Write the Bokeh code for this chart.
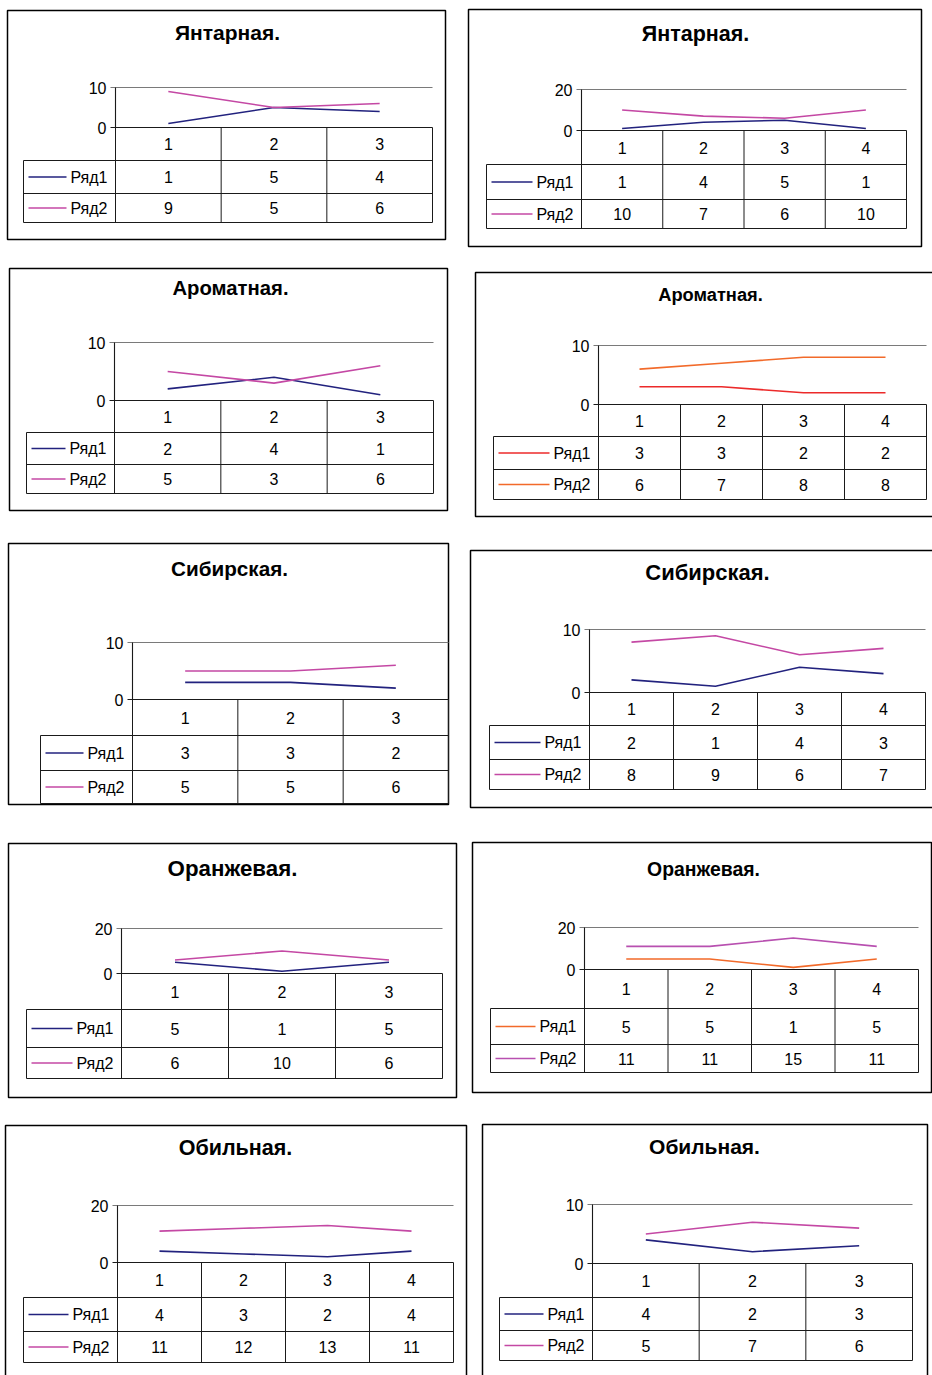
from bokeh.plotting import figure
from bokeh.models import Range1d
from bokeh.core.properties import value
from bokeh.embed import file_html
from bokeh.resources import INLINE

# ---- data -------------------------------------------------------------
series_names = ["Ряд1", "Ряд2"]

yantar3_cats = [1, 2, 3]
yantar3_r1 = [1, 5, 4]
yantar3_r2 = [9, 5, 6]
yantar3_ticks = [0, 10]

yantar4_cats = [1, 2, 3, 4]
yantar4_r1 = [1, 4, 5, 1]
yantar4_r2 = [10, 7, 6, 10]
yantar4_ticks = [0, 20]

aromat3_cats = [1, 2, 3]
aromat3_r1 = [2, 4, 1]
aromat3_r2 = [5, 3, 6]
aromat3_ticks = [0, 10]

aromat4_cats = [1, 2, 3, 4]
aromat4_r1 = [3, 3, 2, 2]
aromat4_r2 = [6, 7, 8, 8]
aromat4_ticks = [0, 10]

sibir3_cats = [1, 2, 3]
sibir3_r1 = [3, 3, 2]
sibir3_r2 = [5, 5, 6]
sibir3_ticks = [0, 10]

sibir4_cats = [1, 2, 3, 4]
sibir4_r1 = [2, 1, 4, 3]
sibir4_r2 = [8, 9, 6, 7]
sibir4_ticks = [0, 10]

orange3_cats = [1, 2, 3]
orange3_r1 = [5, 1, 5]
orange3_r2 = [6, 10, 6]
orange3_ticks = [0, 20]

orange4_cats = [1, 2, 3, 4]
orange4_r1 = [5, 5, 1, 5]
orange4_r2 = [11, 11, 15, 11]
orange4_ticks = [0, 20]

obil4_cats = [1, 2, 3, 4]
obil4_r1 = [4, 3, 2, 4]
obil4_r2 = [11, 12, 13, 11]
obil4_ticks = [0, 20]

obil3_cats = [1, 2, 3]
obil3_r1 = [4, 2, 3]
obil3_r2 = [5, 7, 6]
obil3_ticks = [0, 10]

NAVY = "#22227e"
PINK = "#c448a4"
RED = "#ec2a2a"
ORANGE = "#f26a2a"
PURPLE = "#b850b0"

# ---- page layout (pixels) ---------------------------------------------
W, H = 932, 1375
FONT = value("Liberation Sans")

# box: (left, top, right, bottom); axis x, value-top y, zero y, right edge,
# column-table row bounds, legend left, title position and size
charts = [
    dict(title="Янтарная.", cats=yantar3_cats, r1=yantar3_r1, r2=yantar3_r2, ticks=yantar3_ticks,
         colors=(NAVY, PINK), box=(7, 10, 445, 239), ax=115, top=87, zero=127, right=432,
         rows=(160, 193, 222), leg=23, tx=227, ty=32, tsize=21),
    dict(title="Янтарная.", cats=yantar4_cats, r1=yantar4_r1, r2=yantar4_r2, ticks=yantar4_ticks,
         colors=(NAVY, PINK), box=(468, 9, 921, 246), ax=581, top=89, zero=130, right=906,
         rows=(164, 199, 228), leg=486, tx=695, ty=33, tsize=21.5),
    dict(title="Ароматная.", cats=aromat3_cats, r1=aromat3_r1, r2=aromat3_r2, ticks=aromat3_ticks,
         colors=(NAVY, PINK), box=(9, 268, 447, 510), ax=114, top=342, zero=400, right=433,
         rows=(432, 464, 493), leg=26, tx=230, ty=287, tsize=20.3),
    dict(title="Ароматная.", cats=aromat4_cats, r1=aromat4_r1, r2=aromat4_r2, ticks=aromat4_ticks,
         colors=(RED, ORANGE), box=(475, 272, 940, 516), ax=598, top=345, zero=404, right=926,
         rows=(436, 469, 499), leg=493, tx=710, ty=294, tsize=18.3),
    dict(title="Сибирская.", cats=sibir3_cats, r1=sibir3_r1, r2=sibir3_r2, ticks=sibir3_ticks,
         colors=(NAVY, PINK), box=(8, 543, 448, 804), ax=132, top=642, zero=699, right=448,
         rows=(735, 770, 803), leg=40, tx=229, ty=568, tsize=20.7),
    dict(title="Сибирская.", cats=sibir4_cats, r1=sibir4_r1, r2=sibir4_r2, ticks=sibir4_ticks,
         colors=(NAVY, PINK), box=(470, 550, 940, 807), ax=589, top=629, zero=692, right=925,
         rows=(725, 759, 789), leg=489, tx=707, ty=572, tsize=22),
    dict(title="Оранжевая.", cats=orange3_cats, r1=orange3_r1, r2=orange3_r2, ticks=orange3_ticks,
         colors=(NAVY, PINK), box=(8, 843, 456, 1097), ax=121, top=928, zero=973, right=442,
         rows=(1009, 1047, 1078), leg=26, tx=232, ty=868, tsize=22.3),
    dict(title="Оранжевая.", cats=orange4_cats, r1=orange4_r1, r2=orange4_r2, ticks=orange4_ticks,
         colors=(ORANGE, PURPLE), box=(472, 842, 931, 1092), ax=584, top=927, zero=969, right=918,
         rows=(1008, 1044, 1072), leg=490, tx=703, ty=868, tsize=19.4),
    dict(title="Обильная.", cats=obil4_cats, r1=obil4_r1, r2=obil4_r2, ticks=obil4_ticks,
         colors=(NAVY, PINK), box=(5, 1125, 466, 1390), ax=117, top=1205, zero=1262, right=453,
         rows=(1297, 1331, 1362), leg=23, tx=235, ty=1147, tsize=21.5),
    dict(title="Обильная.", cats=obil3_cats, r1=obil3_r1, r2=obil3_r2, ticks=obil3_ticks,
         colors=(NAVY, PINK), box=(482, 1124, 927, 1390), ax=592, top=1204, zero=1263, right=912,
         rows=(1297, 1330, 1360), leg=499, tx=704, ty=1146, tsize=21),
]

p = figure(width=W, height=H, x_range=Range1d(0, W), y_range=Range1d(H, 0),
           output_backend="svg", toolbar_location=None, min_border=0,
           background_fill_color="white", border_fill_color="white")
p.axis.visible = False
p.grid.visible = False
p.outline_line_color = None

LINE = "#1a1a1a"
GRID = "#7a7a7a"

for i, c in enumerate(charts):
    n = len(c["cats"])
    ax, top, zero, right = c["ax"], c["top"], c["zero"], c["right"]
    r1_bot, r2_bot, t_bot = c["rows"]
    leg = c["leg"]
    ymax = c["ticks"][-1]

    # value scale: value 0 sits on the table's top edge, ymax on the top gridline
    ppu = (zero - top) / ymax
    yr = f"v{i}"
    p.extra_y_ranges[yr] = Range1d((zero - H) / ppu, zero / ppu)
    # category scale: one table column per category
    cw = (right - ax) / n
    xr = f"c{i}"
    p.extra_x_ranges[xr] = Range1d((0 - ax) / cw + 0.5, (W - ax) / cw + 0.5)

    # chart frame
    L, T, R, B = c["box"]
    p.quad(left=[L], right=[R], top=[T], bottom=[B], fill_color=None,
           line_color="black", line_width=1.5)

    # title
    p.text(x=[c["tx"]], y=[c["ty"]], text=[c["title"]], text_font=FONT,
           text_font_style="bold", text_font_size=f'{c["tsize"]}px',
           text_align="center", text_baseline="middle", text_color="black")

    # top gridline and value axis with its two ticks
    p.segment(x0=[ax - 5], x1=[right], y0=[ymax], y1=[ymax], y_range_name=yr,
              line_color=GRID, line_width=1.2)
    p.segment(x0=[ax - 5], x1=[ax], y0=[0], y1=[0], y_range_name=yr,
              line_color=LINE, line_width=1)
    p.segment(x0=[ax], x1=[ax], y0=[0], y1=[ymax], y_range_name=yr,
              line_color=GRID, line_width=1.2)
    p.text(x=[ax - 9] * len(c["ticks"]), y=c["ticks"], text=[str(t) for t in c["ticks"]],
           y_range_name=yr, text_font=FONT, text_font_size="16px",
           text_align="right", text_baseline="middle", text_color="black")

    # data table grid
    hx0 = [ax, leg, leg, leg]
    hy = [zero, r1_bot, r2_bot, t_bot]
    p.segment(x0=hx0, x1=[right] * 4, y0=hy, y1=hy, line_color=LINE, line_width=1)
    vx = [leg, ax] + [ax + cw * k for k in range(1, n)] + [right]
    vy0 = [r1_bot, top] + [zero] * (n - 1) + [zero]
    p.segment(x0=vx, x1=vx, y0=vy0, y1=[t_bot] * len(vx), line_color=LINE, line_width=1)

    # header row with category numbers
    p.text(x=c["cats"], y=[(zero + r1_bot) / 2] * n, text=[str(k) for k in c["cats"]],
           x_range_name=xr, text_font=FONT, text_font_size="16px",
           text_align="center", text_baseline="middle", text_color="black")

    row_mid = [(r1_bot + r2_bot) / 2, (r2_bot + t_bot) / 2]
    for vals, ym, col, name in zip((c["r1"], c["r2"]), row_mid, c["colors"], series_names):
        # series line in the plot area
        p.line(x=c["cats"], y=vals, x_range_name=xr, y_range_name=yr,
               line_color=col, line_width=1.6)
        # table values
        p.text(x=c["cats"], y=[ym] * n, text=[str(v) for v in vals], x_range_name=xr,
               text_font=FONT, text_font_size="16px", text_align="center",
               text_baseline="middle", text_color="black")
        # legend key and series name, the name set against the axis column
        p.segment(x0=[leg + 5], x1=[ax - 49], y0=[ym], y1=[ym], line_color=col, line_width=1.6)
        p.text(x=[ax - 8], y=[ym], text=[name], text_font=FONT, text_font_size="16px",
               text_align="right", text_baseline="middle", text_color="black")

open("out.html", "w").write(file_html(p, INLINE))
